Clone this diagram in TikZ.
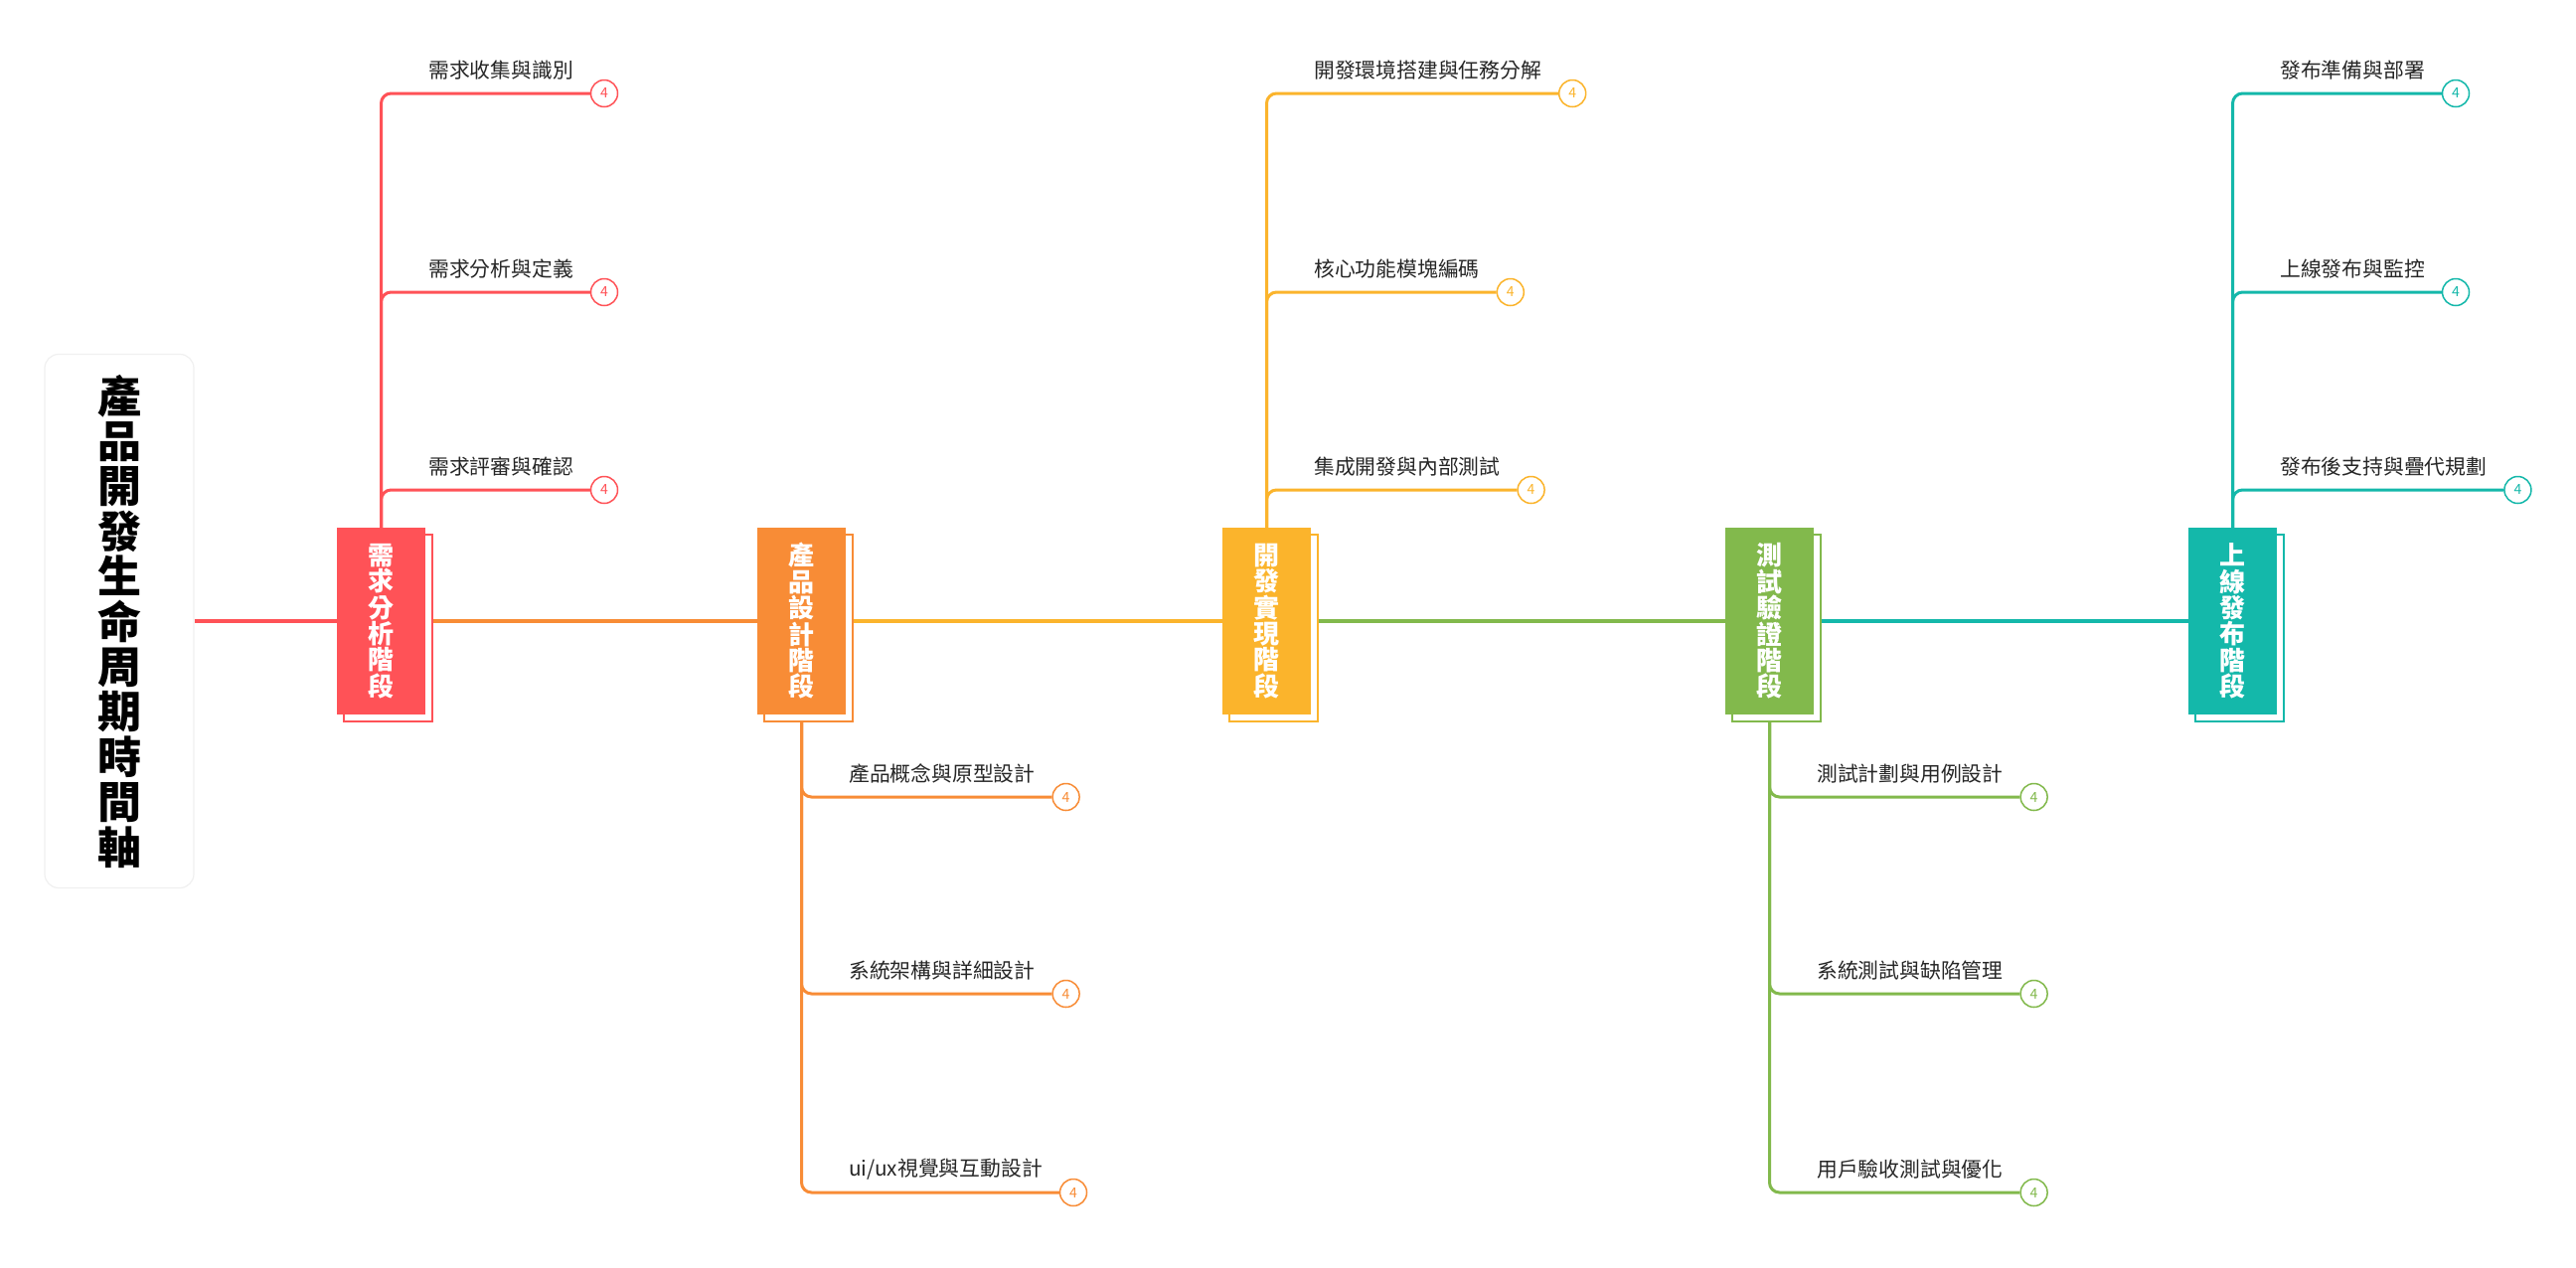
\documentclass[tikz,border=0pt]{standalone}
\usepackage{fontspec}
\usepackage{xcolor}
\usepackage{tikz}
\usetikzlibrary{positioning,shadows,backgrounds}
\newfontfamily\cjk{Noto Sans CJK TC}
\definecolor{cRed}{HTML}{FF5257}
\definecolor{cOrg}{HTML}{F88C36}
\definecolor{cYel}{HTML}{FBB42C}
\definecolor{cGrn}{HTML}{82B94C}
\definecolor{cTeal}{HTML}{14B8AA}
\definecolor{txt}{HTML}{262626}
\tikzset{
  ttl/.style={rectangle, rounded corners=14pt, fill=white, draw=black!6, line width=1.2pt,
    minimum width=150pt, minimum height=537pt, align=center, inner sep=0pt,
    font=\cjk\bfseries\fontsize{44}{45.4}\selectfont, text=black},
  stg/.style={rectangle, fill=#1, minimum width=89pt, minimum height=188pt, inner sep=0pt,
    align=center, text=white, font=\cjk\bfseries\fontsize{26}{26.4}\selectfont,
    copy shadow={shadow xshift=7pt, shadow yshift=-7pt, fill=white, draw=#1, line width=1.2pt}},
  lbl/.style={anchor=west, inner sep=0pt, text=txt, font=\cjk\fontsize{20.8}{22}\selectfont},
  num/.style={circle, draw=#1, fill=white, line width=1.5pt, minimum size=27pt, inner sep=0pt,
    text=#1, font=\cjk\fontsize{14}{14}\selectfont},
  trunk/.style={draw=#1, line width=4pt},
  twig/.style={draw=#1, line width=3pt, rounded corners=10pt}
}
\begin{document}
\begin{tikzpicture}[x=1pt, y=-1pt]
  \useasboundingbox (0,0) rectangle (2592,1275);

  % Title
  \node[ttl] (title) at (120,625) {產\\品\\開\\發\\生\\命\\周\\期\\時\\間\\軸};

  % Stages
  \node[stg=cRed]  (s1) at (383.5,625)  {需\\求\\分\\析\\階\\段};
  \node[stg=cOrg]  (s2) at (806.5,625)  {產\\品\\設\\計\\階\\段};
  \node[stg=cYel]  (s3) at (1274.5,625) {開\\發\\實\\現\\階\\段};
  \node[stg=cGrn]  (s4) at (1780.5,625) {測\\試\\驗\\證\\階\\段};
  \node[stg=cTeal] (s5) at (2246.5,625) {上\\線\\發\\布\\階\\段};

  % Stage 1 items
  \node[lbl] (t11) at (431,71)  {需求收集與識別};
  \node[lbl] (t12) at (431,271) {需求分析與定義};
  \node[lbl] (t13) at (431,470) {需求評審與確認};
  \node[num=cRed] (n11) at ([xshift=31pt,yshift=-23pt]t11.east) {4};
  \node[num=cRed] (n12) at ([xshift=31pt,yshift=-23pt]t12.east) {4};
  \node[num=cRed] (n13) at ([xshift=31pt,yshift=-23pt]t13.east) {4};

  % Stage 2 items
  \node[lbl] (t21) at (854,779)  {產品概念與原型設計};
  \node[lbl] (t22) at (854,977)  {系統架構與詳細設計};
  \node[lbl] (t23) at (854,1177) {ui/ux視覺與互動設計};
  \node[num=cOrg] (n21) at ([xshift=31pt,yshift=-23pt]t21.east) {4};
  \node[num=cOrg] (n22) at ([xshift=31pt,yshift=-23pt]t22.east) {4};
  \node[num=cOrg] (n23) at ([xshift=31pt,yshift=-23pt]t23.east) {4};

  % Stage 3 items
  \node[lbl] (t31) at (1322,71)  {開發環境搭建與任務分解};
  \node[lbl] (t32) at (1322,271) {核心功能模塊編碼};
  \node[lbl] (t33) at (1322,470) {集成開發與內部測試};
  \node[num=cYel] (n31) at ([xshift=31pt,yshift=-23pt]t31.east) {4};
  \node[num=cYel] (n32) at ([xshift=31pt,yshift=-23pt]t32.east) {4};
  \node[num=cYel] (n33) at ([xshift=31pt,yshift=-23pt]t33.east) {4};

  % Stage 4 items
  \node[lbl] (t41) at (1828,779)  {測試計劃與用例設計};
  \node[lbl] (t42) at (1828,977)  {系統測試與缺陷管理};
  \node[lbl] (t43) at (1828,1177) {用戶驗收測試與優化};
  \node[num=cGrn] (n41) at ([xshift=31pt,yshift=-23pt]t41.east) {4};
  \node[num=cGrn] (n42) at ([xshift=31pt,yshift=-23pt]t42.east) {4};
  \node[num=cGrn] (n43) at ([xshift=31pt,yshift=-23pt]t43.east) {4};

  % Stage 5 items
  \node[lbl] (t51) at (2294,71)  {發布準備與部署};
  \node[lbl] (t52) at (2294,271) {上線發布與監控};
  \node[lbl] (t53) at (2294,470) {發布後支持與疊代規劃};
  \node[num=cTeal] (n51) at ([xshift=31pt,yshift=-23pt]t51.east) {4};
  \node[num=cTeal] (n52) at ([xshift=31pt,yshift=-23pt]t52.east) {4};
  \node[num=cTeal] (n53) at ([xshift=31pt,yshift=-23pt]t53.east) {4};

  \begin{scope}[on background layer]
    \fill[white] (0,0) rectangle (2592,1275);

    % Timeline
    \draw[trunk=cRed]  (title) -- (s1);
    \draw[trunk=cOrg]  (s1) -- (s2);
    \draw[trunk=cYel]  (s2) -- (s3);
    \draw[trunk=cGrn]  (s3) -- (s4);
    \draw[trunk=cTeal] (s4) -- (s5);

    % Branches
    \draw[twig=cRed] (s1.north) |- (n11);
    \draw[twig=cRed] (s1.north) |- (n12);
    \draw[twig=cRed] (s1.north) |- (n13);
    \draw[twig=cOrg] (s2.south) |- (n21);
    \draw[twig=cOrg] (s2.south) |- (n22);
    \draw[twig=cOrg] (s2.south) |- (n23);
    \draw[twig=cYel] (s3.north) |- (n31);
    \draw[twig=cYel] (s3.north) |- (n32);
    \draw[twig=cYel] (s3.north) |- (n33);
    \draw[twig=cGrn] (s4.south) |- (n41);
    \draw[twig=cGrn] (s4.south) |- (n42);
    \draw[twig=cGrn] (s4.south) |- (n43);
    \draw[twig=cTeal] (s5.north) |- (n51);
    \draw[twig=cTeal] (s5.north) |- (n52);
    \draw[twig=cTeal] (s5.north) |- (n53);
  \end{scope}
\end{tikzpicture}
\end{document}
